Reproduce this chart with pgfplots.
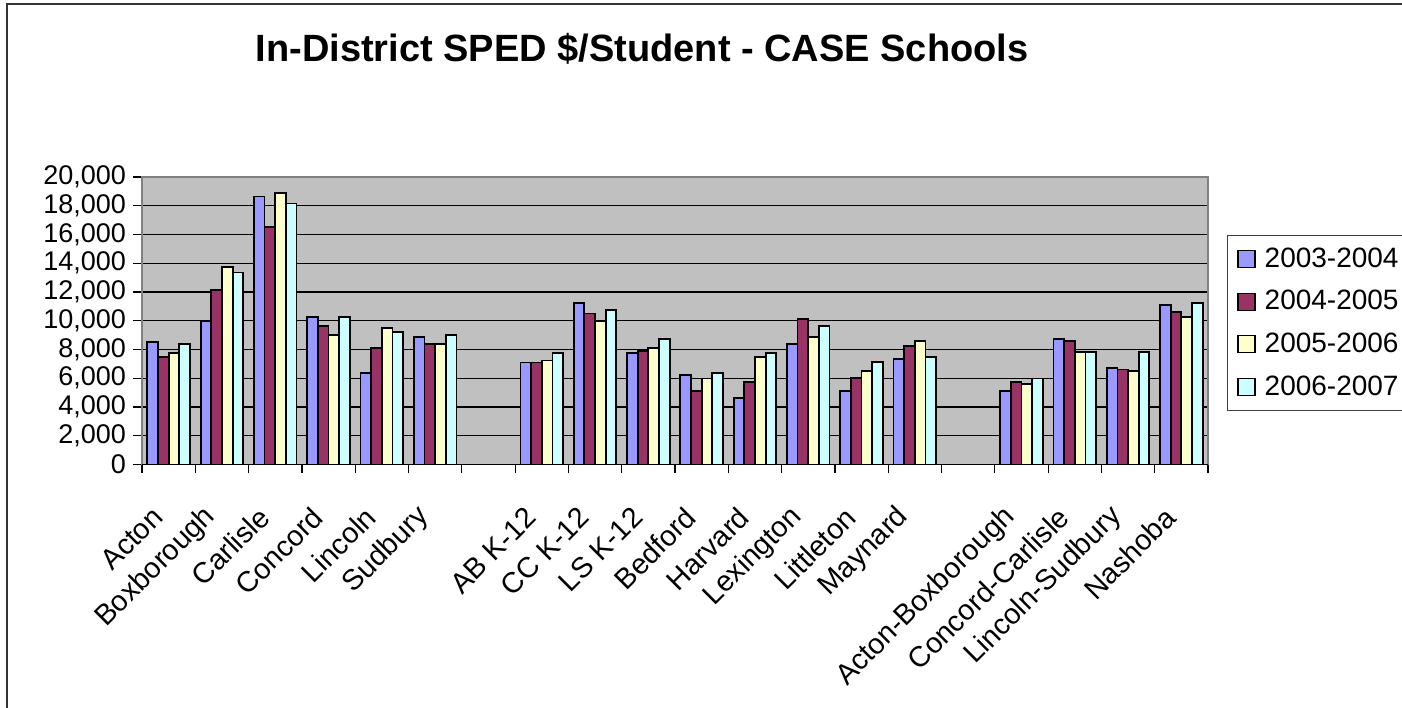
\documentclass[border=0pt]{standalone}
\usepackage{fontspec}
\setmainfont{Liberation Sans}
\usepackage{pgfplots}
\usepackage{pgfplotstable}
\pgfplotsset{compat=1.18}
\definecolor{s1}{HTML}{9999FF}
\definecolor{s2}{HTML}{993366}
\definecolor{s3}{HTML}{FFFFCC}
\definecolor{s4}{HTML}{CCFFFF}
\definecolor{plotbg}{HTML}{C0C0C0}
\pgfplotstableread{
x a b c d
0 8500 7470 7750 8380
1 10000 12120 13750 13360
2 18640 16500 18870 18150
3 10260 9630 9000 10260
4 6380 8120 9490 9240
5 8870 8380 8380 9000
7 7100 7100 7240 7750
8 11240 10500 9980 10750
9 7750 7870 8120 8730
10 6240 5120 5980 6380
11 4610 5750 7490 7750
12 8380 10120 8870 9630
13 5120 6000 6490 7120
14 7350 8240 8610 7490
16 5120 5750 5610 5980
17 8730 8610 7840 7840
18 6730 6610 6490 7840
19 11120 10610 10240 11240
}\data
\begin{document}
\begin{tikzpicture}
\useasboundingbox (0,0) rectangle (701pt,353.5pt);
\draw[line width=1pt, black!80] (3.5pt,-5pt) -- (3.5pt,351.5pt) -- (710pt,351.5pt);
\node[font=\fontsize{19}{22}\selectfont\bfseries] at (321pt,329pt) {In-District SPED \$/Student - CASE Schools};
\begin{axis}[
  at={(71pt,121.25pt)}, anchor=south west,
  scale only axis, width=533pt, height=143.75pt,
  xmin=-0.5, xmax=19.5, ymin=0, ymax=20000,
  ybar, bar width=0.2,
  axis background/.style={fill=plotbg},
  axis line style={draw=black!50, line width=0.8pt},
  tick align=outside,
  xtick pos=bottom, ytick pos=left,
  xtick={0,...,19},
  xticklabels={Acton,Boxborough,Carlisle,Concord,Lincoln,Sudbury,{},AB K-12,CC K-12,LS K-12,Bedford,Harvard,Lexington,Littleton,Maynard,{},Acton-Boxborough,Concord-Carlisle,Lincoln-Sudbury,Nashoba},
  major x tick style={draw=none},
  minor xtick={-0.5,0.5,...,19.5},
  minor tick length=4pt, major tick length=4.5pt,
  tick style={black, line width=0.6pt},
  ytick={0,2000,...,20000},
  scaled y ticks=false,
  /pgf/number format/assume math mode=true,
  yticklabel style={/pgf/number format/fixed, /pgf/number format/1000 sep={,}, font=\fontsize{13.5}{15}\selectfont},
  xticklabel style={yshift=-17pt, xshift=-3pt, rotate=45, anchor=east, font=\fontsize{14.4}{16}\selectfont},
  ymajorgrids, major grid style={black, line width=0.6pt},
  every axis plot/.append style={draw=black, line width=0.9pt},
  legend style={at={(1.0178,0.798)}, anchor=north west, draw=black!75, line width=0.5pt,
    inner xsep=5pt, inner ysep=1pt, font=\fontsize{14}{16}\selectfont,
    nodes={inner xsep=2pt, inner ysep=0pt, minimum height=21.35pt, anchor=west},
    /tikz/every odd column/.append style={column sep=2.5pt}},
  legend cell align=left,
  legend image code/.code={\draw[#1, line width=0.6pt] (0pt,-4.25pt) rectangle (8.5pt,4.25pt);},
]
\addplot[fill=s1, bar shift=-0.3] table[x=x,y=a]{\data};
\addplot[fill=s2, bar shift=-0.1] table[x=x,y=b]{\data};
\addplot[fill=s3, bar shift=0.1] table[x=x,y=c]{\data};
\addplot[fill=s4, bar shift=0.3] table[x=x,y=d]{\data};
\legend{2003-2004,2004-2005,2005-2006,2006-2007}
\draw[black, line width=1pt] (rel axis cs:0,0) -- (rel axis cs:1,0);
\end{axis}
\end{tikzpicture}
\end{document}
